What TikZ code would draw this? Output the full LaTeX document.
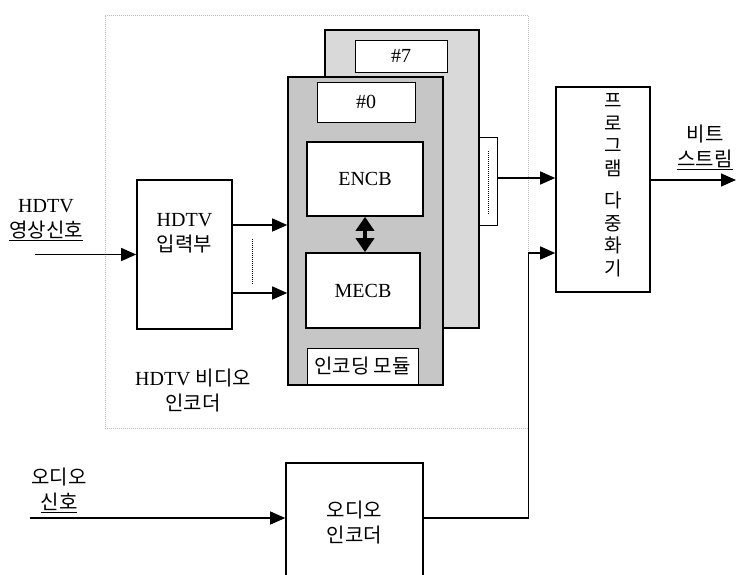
\documentclass[tikz,border=0pt]{standalone}
\usepackage{fontspec}
\setmainfont{Liberation Serif}
\newfontfamily\kr{Noto Sans CJK KR}
\usetikzlibrary{arrows.meta}

\begin{document}
\begin{tikzpicture}[x=1pt, y=-1pt,
    every node/.style={font=\fontsize{20}{25}\selectfont, align=center, inner sep=0pt},
    blk/.style={draw, line width=1.6pt, fill=white},
    lbl/.style={draw, line width=0.8pt, fill=white},
    modbox/.style={draw, line width=1.6pt},
    sig/.style={line width=1.3pt, -{Triangle[length=15pt,width=13pt]}}]
  \path[use as bounding box, clip] (0,0) rectangle (737,574);
  \node[draw=gray!55, densely dotted, line width=1pt, minimum width=423pt, minimum height=413pt] (venc) at (316.5,221.5) {};
  \node (vlbl) at (193,391) {HDTV {\kr 비디오}\\{\kr 인코더}};
  \node (hin) at (46,220) {HDTV\\{\kr\underline{영상신호}}};
  \node[blk, minimum width=95pt, minimum height=149pt] (inp) at (184.5,254.5) {};
  \node (inptxt) at (184.5,233) {HDTV\\{\kr 입력부}};
  \node[modbox, fill=gray!30, minimum width=154pt, minimum height=298pt] (mod7) at (402,179) {};
  \node[lbl, minimum width=92pt, minimum height=32pt] (lab7) at (401,56) {\#7};
  \node[draw, line width=0.8pt, fill=white, minimum width=18pt, minimum height=88pt] (sbox) at (488,181) {};
  \node[modbox, fill=gray!45, minimum width=155pt, minimum height=308pt] (mod0) at (365.5,231) {};
  \node[lbl, minimum width=98pt, minimum height=40pt] (lab0) at (366,102) {\#0};
  \node[blk, minimum width=116pt, minimum height=74pt] (encb) at (365,179) {ENCB};
  \node[blk, minimum width=114pt, minimum height=75pt] (mecb) at (363,290.5) {MECB};
  \node[lbl, minimum width=111pt, minimum height=36pt] (modlab) at (362.5,366) {\kr 인코딩 모듈};
  \node[blk, minimum width=94pt, minimum height=205pt] (mux) at (603,189.5) {};
  \node[font=\kr\fontsize{19}{22.5}\selectfont] (muxtxt) at (613,185) {프\\로\\그\\램\\[10pt]다\\중\\화\\기};
  \node (bits) at (705,147) {{\kr 비트}\\{\kr\underline{스트림}}};
  \node (ain) at (59,490) {{\kr 오디오}\\{\kr\underline{신호}}};
  \node[blk, minimum width=137pt, minimum height=140pt] (aud) at (354.5,533) {};
  \node (audtxt) at (354.5,523) {{\kr 오디오}\\{\kr 인코더}};
  \coordinate (vin) at (35,254.5);
  \coordinate (ain0) at (30,518);
  \coordinate (bout) at (736,180);

  \draw[sig] (vin) -- (inp.west);
  \foreach \s in {29.5,-38.5}
    \draw[sig] ([yshift=\s pt]inp.east) -- ([yshift=\s pt]inp.east -| mod0.west);
  \draw[densely dotted, line width=1pt] ([xshift=20pt,yshift=16pt]inp.east) -- ([xshift=20pt,yshift=-30pt]inp.east);
  \draw[densely dotted, line width=1pt] ([yshift=30pt]sbox.center) -- ([yshift=-34pt]sbox.center);
  \draw[line width=3.5pt, {Triangle[length=14pt,width=18pt]}-{Triangle[length=14pt,width=18pt]}] (encb.south) -- (encb.south |- mecb.north);
  \draw[sig] ([yshift=3pt]sbox.east) -- ([yshift=11.5pt]mux.west);
  \draw[sig] ([yshift=9.5pt]mux.east) -- (bout);
  \draw[sig] (ain0) -- ([yshift=15pt]aud.west);
  \draw[sig] ([yshift=15pt]aud.east) -- ++(105,0) |- ([yshift=-63.5pt]mux.west);
\end{tikzpicture}
\end{document}
